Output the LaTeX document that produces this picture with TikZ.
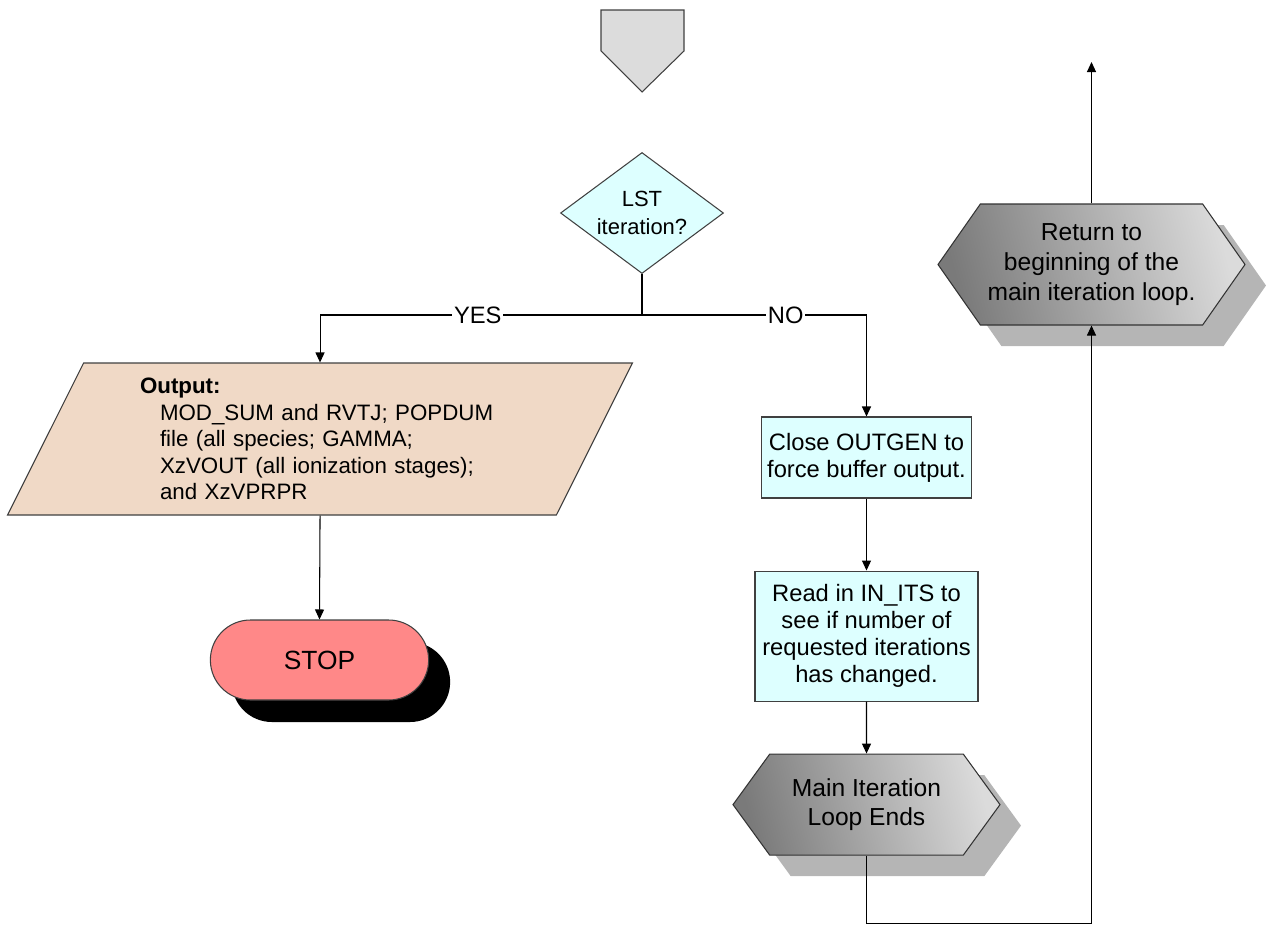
\documentclass[tikz,border=0pt]{standalone}
\usepackage{fontspec}
\setmainfont{Liberation Sans}
\usepackage{tikz}
\usetikzlibrary{shapes.geometric, shapes.misc, shapes.symbols, arrows.meta, positioning, shadows}
\definecolor{decisioncyan}{RGB}{221,255,255}
\definecolor{outputpeach}{RGB}{240,217,198}
\definecolor{stopred}{RGB}{255,136,136}
\definecolor{offpagegray}{RGB}{220,220,220}

\begin{document}
\begin{tikzpicture}[
    node distance=1.44cm,
    decision/.style={diamond, draw=black!75, fill=decisioncyan, aspect=1.35, inner sep=0pt,
                     minimum width=3.26cm, minimum height=2.42cm, align=center,
                     line width=.6pt, font=\fontsize{12.5}{16}\selectfont},
    process/.style={rectangle, draw=black!75, fill=decisioncyan, align=center,
                    line width=.6pt, font=\fontsize{13.5}{15.4}\selectfont},
    io/.style={trapezium, trapezium left angle=65.9, trapezium right angle=114.1,
               trapezium stretches=true, draw=black!75, fill=outputpeach,
               minimum width=12.52cm, minimum height=3.04cm, text width=7.2cm, align=left,
               line width=.6pt, font=\fontsize{12.7}{15.1}\selectfont},
    terminal/.style={rounded rectangle, draw=black!75, fill=stopred, line width=.6pt,
                     minimum width=4.6cm, minimum height=1.6cm, font=\fontsize{15}{18}\selectfont,
                     drop shadow={shadow xshift=.43cm, shadow yshift=-.44cm, fill=black, opacity=1}},
    loopbox/.style={signal, signal to=east and west, draw=black!80, line width=.6pt,
                    left color=black!52, right color=black!14, shading angle=105,
                    align=center, font=\fontsize{14}{17}\selectfont,
                    drop shadow={shadow xshift=.42cm, shadow yshift=-.42cm, fill=black!29, opacity=1}},
    arr/.style={-{Triangle[length=.2cm, width=.18cm]}, line width=.6pt},
    line/.style={line width=.6pt},
    branch/.style={fill=white, inner sep=1pt, font=\fontsize{13.5}{16}\selectfont}
]
\useasboundingbox (0,0) rectangle (25.32,-18.5);

% off-page entry
\draw[draw=black!75, fill=offpagegray, line width=.6pt]
    (12.02,-.2) -- (13.68,-.2) -- (13.68,-1.02) -- (12.84,-1.84) -- (12.02,-1.02) -- cycle;

\node[decision] (lst) at (12.84,-4.26) {LST\\iteration?};
\coordinate (split) at (12.84,-6.3);

\node[io] (output) at (6.4,-8.78)
    {\textbf{Output:}\\
     \hspace*{.4cm}MOD\_SUM and RVTJ; POPDUM\\
     \hspace*{.4cm}file (all species; GAMMA;\\
     \hspace*{.4cm}XzVOUT (all ionization stages);\\
     \hspace*{.4cm}and XzVPRPR};
\node[terminal] (stop) at (6.39,-13.2) {STOP};

\node[process, minimum width=4.06cm, minimum height=1.62cm] (closegen) at (17.33,-9.15)
    {Close OUTGEN to\\force buffer output.};
\node[process, minimum width=4.46cm, minimum height=2.6cm, below=1.44cm of closegen] (readits)
    {Read in IN\_ITS to\\see if number of\\requested iterations\\has changed.};
\node[loopbox, signal pointer angle=108, minimum width=5.34cm, minimum height=2.02cm,
      below=1.04cm of readits] (loopend) {Main Iteration\\Loop Ends};

\node[loopbox, signal pointer angle=110, minimum width=6.14cm, minimum height=2.42cm]
    (restart) at (21.83,-5.29) {Return to\\beginning of the\\main iteration loop.};
\coordinate (exit) at (21.83,-1.24);

\draw[line] (lst.south) -- (split);
\draw[arr] (split) -| node[branch, pos=.255]{YES} (output.north);
\draw[arr] (split) -| node[branch, pos=.32]{NO} (closegen.north);
\draw[arr] (output.south) -- (stop.north);
\draw[arr] (closegen) -- (readits);
\draw[arr] (readits) -- (loopend);
\draw[arr] (loopend.south) -- ++(0,-1.36) -| (restart.south);
\draw[arr] (restart.north) -- (exit);
\end{tikzpicture}
\end{document}
